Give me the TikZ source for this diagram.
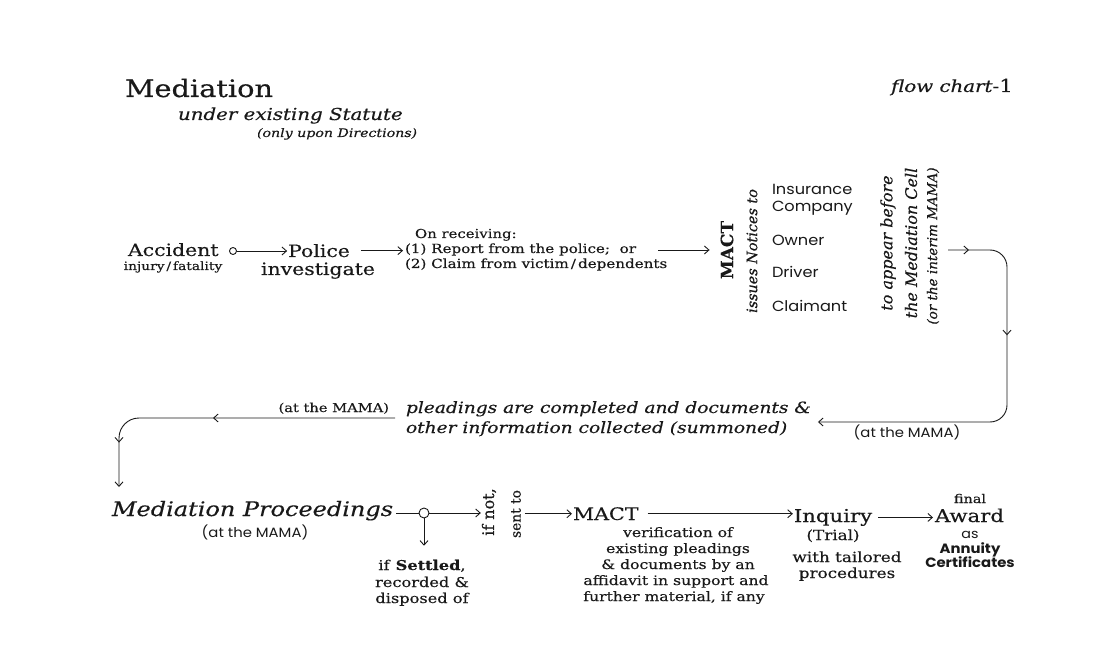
\documentclass[tikz,border=0pt]{standalone}
\usepackage{fontspec}
\setmainfont{DejaVu Serif}[FakeStretch=1.2,FakeBold=0.35]
\newfontfamily\rotf{DejaVu Serif}[FakeBold=0.35]
\newfontfamily\sansf{Poppins}[FakeStretch=1.1]
\usetikzlibrary{arrows.meta,decorations.markings}
\definecolor{ink}{RGB}{25,25,25}
\newcommand\fs[2]{\fontsize{#1}{#2}\selectfont}
\begin{document}
\begin{tikzpicture}[x=1pt,y=-1pt,
  every node/.style={inner sep=0pt,outer sep=0pt,text=ink},
  >={Straight Barb[length=4.5pt,width=8pt]},
  conn/.style={line width=0.9pt,draw=ink},
  lbl/.style={anchor=base},
  lblw/.style={anchor=base west},
  dot/.style={circle,draw=ink,line width=0.9pt,fill=white}]
\fill[white] (0,0) rectangle (1117,663);
\useasboundingbox (0,0) rectangle (1117,663);

% header
\node[lblw,font=\fs{24}{28}] (title) at (125,97) {Mediation};
\node[lblw,font=\fs{16.5}{19}\itshape] (sub) at (178,120) {under existing Statute};
\node[lblw,font=\fs{11.8}{14}\itshape] (dir) at (257,137) {(only upon Directions)};
\node[anchor=base east,font=\fs{16.5}{19}] (fc) at (1013,92) {\textit{flow chart}-\fs{18}{19}1};

% row 1
\node[lblw,font=\fs{17}{20}] (acc) at (128,256) {Accident};
\node[lbl,font=\fs{11.5}{14}] (inj) at (173,270) {injury\,/\,fatality};
\node[dot,minimum size=7pt] (c1) at (233,251) {};
\node[lbl,font=\fs{17}{20}] (pol) at (319,257) {Police};
\node[lbl,font=\fs{17}{20}] (inv) at (318,275) {investigate};
\draw[conn,->,shorten >=1pt] (c1.east) -- (c1.east -| pol.west);

\node[lblw,font=\fs{12.4}{15}] (recv) at (415,238) {On receiving:};
\node[lblw,font=\fs{12.6}{15}] (r1) at (405,253) {(1) Report from the police;\ \ or};
\node[lblw,font=\fs{12.6}{15}] (r2) at (405,268) {(2) Claim from victim\,/\,dependents};
\draw[conn,->,shorten <=11pt,shorten >=2pt] (pol.east) -- (pol.east -| r1.west);

\node[rotate=90,font=\rotf\fs{17}{20}\bfseries] (mact) at (727,250) {MACT};
\draw[conn,->,shorten <=22pt,shorten >=11pt] (r1.east |- mact.north) -- (mact.north);
\node[rotate=90,font=\rotf\fs{14.4}{17}\itshape] (iss) at (752,251) {issues Notices to};

\node[lblw,font=\sansf\fs{14.7}{17}] (ins) at (772,195) {Insurance};
\node[lblw,font=\sansf\fs{14.7}{17}] (comp) at (772,212) {Company};
\node[lblw,font=\sansf\fs{14.7}{17}] (own) at (772,246) {Owner};
\node[lblw,font=\sansf\fs{14.7}{17}] (drv) at (772,278) {Driver};
\node[lblw,font=\sansf\fs{14.7}{17}] (clm) at (772,312) {Claimant};

\node[rotate=90,font=\rotf\fs{16}{19}\itshape] (app1) at (888,243) {to appear before};
\node[rotate=90,font=\rotf\fs{16}{19}\itshape] (app2) at (911,243) {the Mediation Cell};
\node[rotate=90,font=\rotf\fs{13.5}{16}\itshape] (app3) at (933,246) {(or the interim MAMA)};

% loop 1
\coordinate (l1s) at (948,250);
\node[lblw,font=\fs{15.5}{19}\itshape] (pl1) at (406,413) {pleadings are completed and documents \&};
\node[lblw,font=\fs{15.5}{19}\itshape] (pl2) at (406,433) {other information collected (summoned)};
\draw[conn,->,rounded corners=17pt,postaction={decorate},
  decoration={markings,mark=at position 21pt with {\arrow{>}},mark=at position 137pt with {\arrow{>}}}]
  (l1s) -- (1007,250) -- (1007,422) -- ([shift={(7,9)}]pl1.base east);
\node[lbl,font=\sansf\fs{13.5}{15}] (mama1) at (907,437) {(at the MAMA)};

% loop 2
\node[anchor=base east,font=\fs{12.2}{14}] (mama2) at (389,412) {(at the MAMA)};
\node[lblw,font=\fs{20}{24}\itshape] (mp) at (112,516) {Mediation Proceedings};
\draw[conn,->,rounded corners=20pt,postaction={decorate},
  decoration={markings,mark=at position 182pt with {\arrow{>}},mark=at position 292pt with {\arrow{>}}}]
  ([shift={(-11,5)}]pl1.base west) -- (119,418) -- ([shift={(7,-29)}]mp.base west);

% row 3
\node[lbl,font=\sansf\fs{13.5}{15}] (mpa) at (255,537) {(at the MAMA)};
\node[dot,minimum size=10pt] (c2) at (424,513) {};
\draw[conn,shorten <=3pt] (c2.west -| mp.east) -- (c2.west);
\node[rotate=90,font=\rotf\fs{16}{19}] (ifn) at (489,512) {if not,};
\node[rotate=90,font=\rotf\fs{13.8}{16}] (snt) at (516,514) {sent to};
\draw[conn,->,shorten >=1pt] (c2.east) -- (c2.east -| ifn.north);
\node[lblw,font=\fs{17.2}{20}] (mact2) at (573,520) {MACT};
\draw[conn,->,shorten <=4pt,shorten >=1pt] (snt.south |- mact2.west) -- (mact2.west);

\node[lbl,font=\fs{13}{16}] (v1) at (678,537) {verification of};
\node[lbl,font=\fs{13}{16}] (v2) at (678,553) {existing pleadings};
\node[lbl,font=\fs{13}{16}] (v3) at (678,569) {\& documents by an};
\node[lbl,font=\fs{13}{16}] (v4) at (676,585) {affidavit in support and};
\node[lbl,font=\fs{13}{16}] (v5) at (674,601) {further material, if any};

\node[lbl,font=\fs{13.5}{16}] (set1) at (422,570) {if \textbf{Settled},};
\node[lbl,font=\fs{13.5}{16}] (set2) at (422,587) {recorded \&};
\node[lbl,font=\fs{13.5}{16}] (set3) at (422,603) {disposed of};
\draw[conn,->,shorten >=14pt] (c2.south) -- (c2.south |- set1.north);

\node[lbl,font=\fs{17.7}{21}] (inq) at (833,522) {Inquiry};
\draw[conn,->,shorten <=9pt,shorten >=1pt] (mact2.east) -- (mact2.east -| inq.west);
\node[lbl,font=\fs{14}{17}] (tri) at (833,540) {(Trial)};
\node[lbl,font=\fs{14}{17}] (wt) at (847,562) {with tailored};
\node[lbl,font=\fs{14}{17}] (proc) at (847,578) {procedures};

\node[lblw,font=\fs{17.7}{21}] (aw) at (935,522) {Award};
\draw[conn,->,shorten <=6pt,shorten >=2pt] (inq.east) -- (inq.east -| aw.west);
\node[lbl,font=\fs{12}{14}] (fin) at (970,503) {final};
\node[lbl,font=\sansf\fs{13}{14}] (as) at (970,538) {as};
\node[lbl,font=\sansf\fs{13.5}{14}\bfseries] (ann) at (970,553) {Annuity};
\node[lbl,font=\sansf\fs{13.5}{14}\bfseries] (cert) at (970,567) {Certificates};
\end{tikzpicture}
\end{document}
